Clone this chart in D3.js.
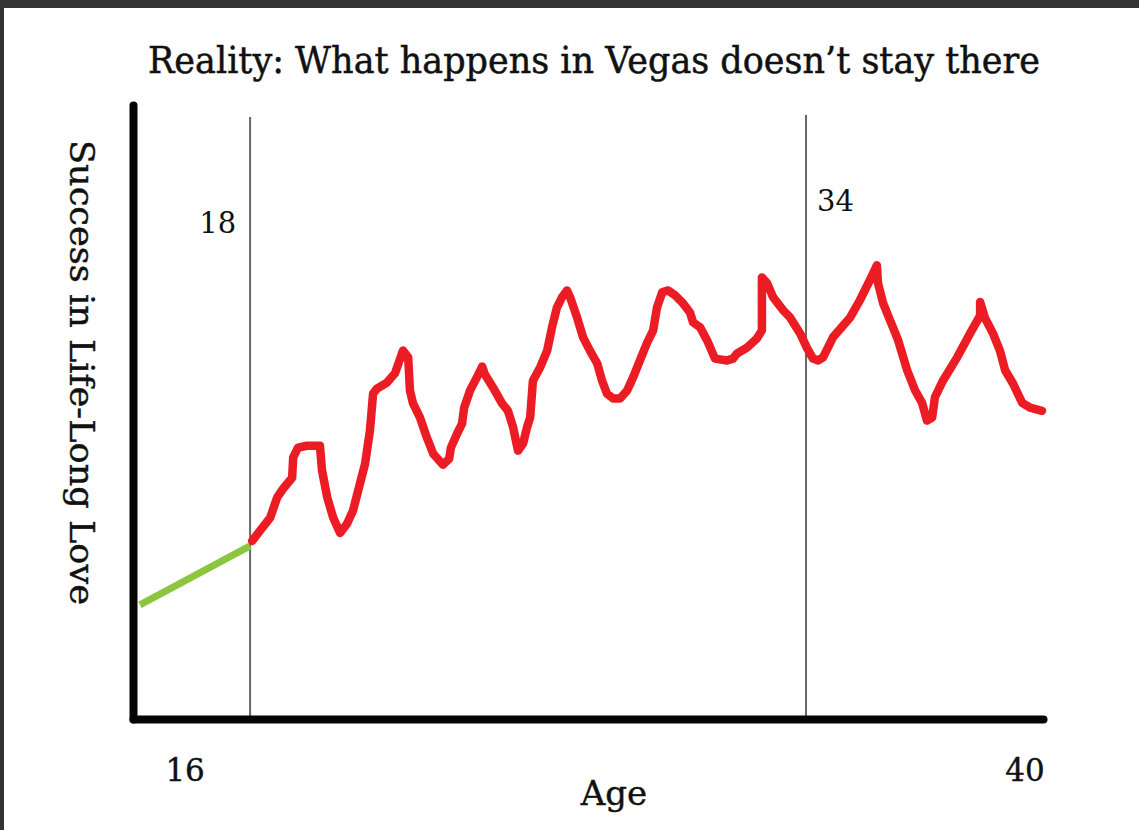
<!DOCTYPE html>
<html>
<head>
<meta charset="utf-8">
<script src="https://cdn.jsdelivr.net/npm/d3@7"></script>
<style>
  html, body { margin: 0; padding: 0; background: #fff; }
  svg { display: block; }
</style>
</head>
<body>
<script>
// ---------- DATA ----------
const titleText = "Reality: What happens in Vegas doesn\u2019t stay there";
const xAxisTitle = "Age";
const yAxisTitle = "Success in Life-Long Love";
const xTickValues = [16, 40];
const xTickLabels = ["16", "40"];
const markerAges = [18, 34];
const markerLabels = ["18", "34"];

// green segment (before 18)
const greenAges = [14.83, 18.0];
const greenSuccess = [18.6, 28.2];

// red zig-zag (after 18)
const redAges = [18.06, 18.29, 18.58, 18.78, 18.95, 19.21, 19.24, 19.38, 19.64, 20.01,
  20.07, 20.22, 20.39, 20.59, 20.79, 20.96, 21.11, 21.31, 21.45, 21.54,
  21.65, 21.94, 22.17, 22.40, 22.55, 22.60, 22.69, 22.89, 23.09, 23.27,
  23.55, 23.73, 23.78, 23.96, 24.10, 24.16, 24.33, 24.56, 24.68, 24.76,
  24.99, 25.25, 25.42, 25.57, 25.71, 25.86, 25.97, 26.06, 26.14, 26.35,
  26.55, 26.69, 26.83, 26.98, 27.12, 27.21, 27.41, 27.58, 27.78, 27.99,
  28.13, 28.27, 28.45, 28.65, 28.85, 29.02, 29.22, 29.42, 29.60, 29.71,
  29.86, 30.03, 30.23, 30.46, 30.66, 30.75, 30.95, 31.15, 31.38, 31.73,
  31.90, 32.01, 32.30, 32.59, 32.73, 32.73, 32.88, 33.05, 33.34, 33.54,
  33.83, 34.03, 34.20, 34.35, 34.49, 34.78, 35.27, 35.55, 35.84, 36.04,
  36.07, 36.22, 36.42, 36.65, 36.91, 37.14, 37.34, 37.48, 37.63, 37.71,
  37.94, 38.35, 38.72, 39.01, 39.01, 39.15, 39.38, 39.58, 39.73, 39.96,
  40.22, 40.45, 40.79];
const redSuccess = [29.0, 30.7, 32.8, 36.1, 37.5, 39.3, 42.6, 44.2, 44.5, 44.5,
  40.5, 36.1, 32.8, 30.3, 31.8, 33.9, 37.2, 41.6, 47.0, 53.0,
  53.8, 54.8, 56.3, 60.0, 58.9, 53.5, 51.4, 49.1, 45.8, 43.2,
  41.4, 42.4, 44.2, 46.5, 48.1, 50.7, 53.5, 56.0, 57.4, 56.1,
  54.0, 51.4, 50.2, 47.5, 43.7, 44.9, 47.5, 49.1, 55.1, 57.3,
  60.0, 63.8, 67.0, 68.7, 69.8, 68.7, 65.4, 62.2, 60.0, 57.9,
  55.1, 53.0, 52.2, 52.2, 53.5, 55.6, 58.4, 61.2, 63.3, 67.0,
  69.5, 69.8, 69.0, 67.7, 66.2, 64.6, 63.8, 61.7, 58.7, 58.4,
  58.7, 59.5, 60.5, 62.0, 63.3, 71.9, 71.0, 68.7, 66.6, 65.4,
  62.8, 60.4, 58.7, 58.4, 58.9, 62.2, 65.4, 68.2, 71.5, 73.9,
  71.0, 67.7, 64.9, 61.7, 56.8, 53.5, 51.5, 48.6, 49.1, 52.4,
  55.1, 58.9, 62.8, 65.7, 67.9, 65.3, 62.8, 60.0, 56.8, 54.6,
  51.5, 50.7, 50.2];

// axis extents (data units)
const xDomain = [14.63, 40.82];
const yDomain = [0, 100];

// ---------- DRAW ----------
const W = 1139, H = 830;
const svg = d3.select("body").append("svg").attr("width", W).attr("height", H);

// dark frame (screenshot border)
svg.append("rect").attr("x", 0).attr("y", 0).attr("width", W).attr("height", 8).attr("fill", "#333");
svg.append("rect").attr("x", 0).attr("y", 0).attr("width", 4).attr("height", H).attr("fill", "#333");

const x = d3.scaleLinear().domain(xDomain).range([133, 1043]);
const y = d3.scaleLinear().domain(yDomain).range([719, 105]);

const serif = "'DejaVu Serif', Georgia, serif";

// title
svg.append("text")
  .attr("x", 148).attr("y", 73)
  .attr("textLength", 892).attr("lengthAdjust", "spacingAndGlyphs")
  .attr("font-family", serif).attr("font-size", 37).attr("fill", "#111")
  .attr("stroke", "#111").attr("stroke-width", 0.5)
  .text(titleText);

// vertical marker lines
svg.selectAll("line.marker").data(markerAges).join("line")
  .attr("class", "marker")
  .attr("x1", d => x(d)).attr("x2", d => x(d))
  .attr("y1", (d, i) => i === 0 ? 117 : 115).attr("y2", y(0))
  .attr("stroke", "#666").attr("stroke-width", 2);

svg.selectAll("text.marker").data(markerLabels).join("text")
  .attr("class", "marker")
  .attr("x", (d, i) => i === 0 ? x(markerAges[i]) - 14 : x(markerAges[i]) + 11)
  .attr("y", (d, i) => i === 0 ? 233 : 211)
  .attr("text-anchor", (d, i) => i === 0 ? "end" : "start")
  .attr("font-family", serif).attr("font-size", 29).attr("fill", "#111")
  .text(d => d);

// green line
const greenPts = greenAges.map((a, i) => [a, greenSuccess[i]]);
svg.append("path")
  .attr("d", d3.line().x(d => x(d[0])).y(d => y(d[1]))(greenPts))
  .attr("fill", "none").attr("stroke", "#8cc63f").attr("stroke-width", 7);

// red line
const redPts = redAges.map((a, i) => [a, redSuccess[i]]);
svg.append("path")
  .attr("d", d3.line().x(d => x(d[0])).y(d => y(d[1]))(redPts))
  .attr("fill", "none").attr("stroke", "#ec1c24").attr("stroke-width", 8.5)
  .attr("stroke-linejoin", "round").attr("stroke-linecap", "round");

// axes (thick black)
const xAxis = d3.axisBottom(x).tickValues(xTickValues).tickFormat((d, i) => xTickLabels[i])
  .tickSize(0).tickSizeOuter(0).tickPadding(40);
const gx = svg.append("g").attr("transform", `translate(0,${y(0)})`).call(xAxis);
gx.select(".domain").attr("stroke", "#050505").attr("stroke-width", 8).attr("stroke-linecap", "round");
gx.selectAll("text").attr("font-family", serif).attr("font-size", 31).attr("fill", "#111")
  .attr("stroke", "#111").attr("stroke-width", 0.4)
  .attr("dx", (d, i) => i === 1 ? 10 : 4);

const yAxis = d3.axisLeft(y).tickValues([]).tickSize(0).tickSizeOuter(0);
const gy = svg.append("g").attr("transform", `translate(${x(xDomain[0])},0)`).call(yAxis);
gy.select(".domain").attr("stroke", "#050505").attr("stroke-width", 8).attr("stroke-linecap", "round");

// axis titles
svg.append("text")
  .attr("x", 614).attr("y", 805).attr("text-anchor", "middle")
  .attr("font-family", serif).attr("font-size", 34).attr("fill", "#111")
  .attr("stroke", "#111").attr("stroke-width", 0.4)
  .text(xAxisTitle);

svg.append("text")
  .attr("transform", "translate(70,140) rotate(90)")
  .attr("x", 0).attr("y", 0)
  .attr("textLength", 465).attr("lengthAdjust", "spacingAndGlyphs")
  .attr("font-family", serif).attr("font-size", 33).attr("fill", "#111")
  .attr("stroke", "#111").attr("stroke-width", 0.4)
  .text(yAxisTitle);
</script>
</body>
</html>
